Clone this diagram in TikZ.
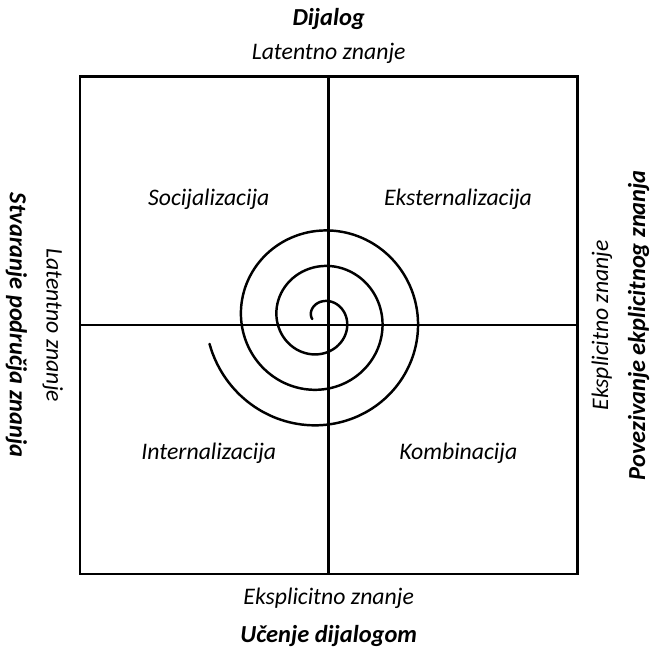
\documentclass[tikz,border=0pt]{standalone}
\usepackage{fontspec}
\setmainfont{Carlito}
\usetikzlibrary{positioning}

\tikzset{
  frame/.style={line width=1.4pt},
  quadtext/.style={anchor=base, font=\fontsize{13.5}{16}\selectfont\itshape},
  sidetext/.style={anchor=base, font=\fontsize{13.5}{16}\selectfont\itshape},
  headtext/.style={anchor=base, font=\fontsize{13.9}{16}\selectfont\bfseries\itshape}
}

\begin{document}
\begin{tikzpicture}

\useasboundingbox (-6.574,-6.436) rectangle (6.486,6.504);

% square and cross
\coordinate (NW) at (-4.975,4.975);
\coordinate (SE) at (4.975,-4.975);
\coordinate (N) at (0,4.975);
\coordinate (S) at (0,-4.975);
\coordinate (W) at (-4.975,0);
\coordinate (E) at (4.975,0);
\draw [frame] (NW) rectangle (SE);
\draw [frame] (N) -- (S);
\draw [frame] (W) -- (E);

% spiral
\draw [frame, line cap=round] plot [domain=0:2.967, samples=240, smooth, variable=\t]
  ({-0.162 + (0.166+0.712*\t)*cos(180-360*\t)}, {0.124 + (0.166+0.712*\t)*sin(180-360*\t)});

% quadrants
\node [quadtext] (soc) at (-2.398,2.39) {Socijalizacija};
\node [quadtext] (eks) at (2.586,2.39) {Eksternalizacija};
\node [quadtext] (int) at (-2.398,-2.682) {Internalizacija};
\node [quadtext] (kom) at (2.592,-2.682) {Kombinacija};

% top and bottom
\node [headtext] (dij) at (0,5.99) {Dijalog};
\node [sidetext] (lattop) at (0,5.304) {Latentno znanje};
\node [sidetext] (eksbot) at (0,-5.582) {Eksplicitno znanje};
\node [headtext] (uce) at (0,-6.35) {Učenje dijalogom};

% left and right
\node [headtext, rotate=-90] (stv) at (-6.374,0) {Stvaranje područja znanja};
\node [sidetext, rotate=-90] (latleft) at (-5.64,0) {Latentno znanje};
\node [sidetext, rotate=90] (eksright) at (5.586,0) {Eksplicitno znanje};
\node [headtext, rotate=90] (pov) at (6.326,0) {Povezivanje ekplicitnog znanja};

\end{tikzpicture}
\end{document}
